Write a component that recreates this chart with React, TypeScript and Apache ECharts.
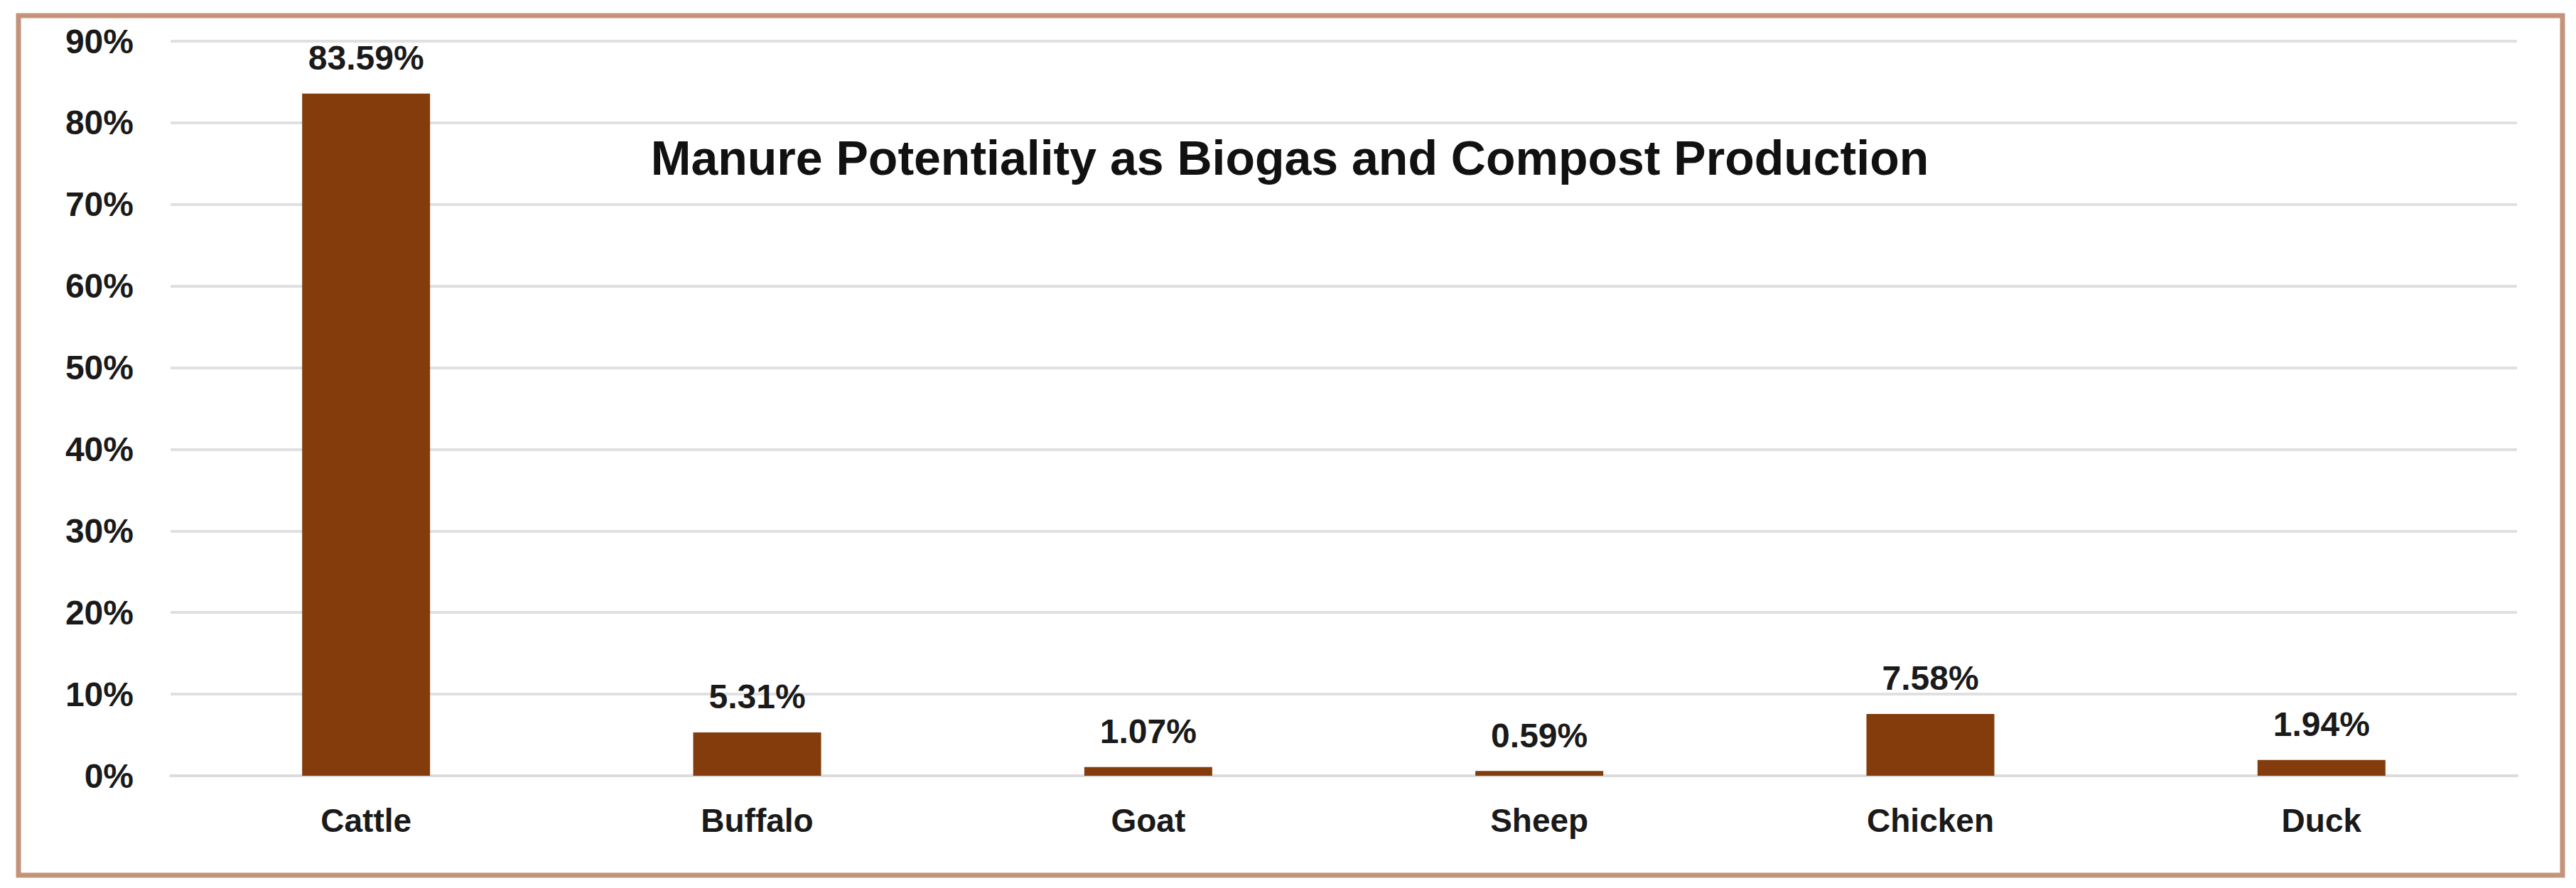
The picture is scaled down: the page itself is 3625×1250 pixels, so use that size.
import React, { useEffect, useRef } from "react";
import * as echarts from "echarts";

const categories = ["Cattle", "Buffalo", "Goat", "Sheep", "Chicken", "Duck"];
const shares = [83.59, 5.31, 1.07, 0.59, 7.58, 1.94];
const titleText = "Manure Potentiality as Biogas and Compost Production";

const FONT = '"Liberation Sans", Arial, sans-serif';

export default function App() {
  const ref = useRef<HTMLDivElement>(null);
  useEffect(() => {
    document.body.style.margin = "0";
    const chart = echarts.init(ref.current!, null, { renderer: "svg" });
    chart.setOption({
      animation: false,
      backgroundColor: "#ffffff",
      grid: { left: 240, right: 83, top: 58, bottom: 158, containLabel: false },
      xAxis: {
        type: "category",
        data: categories,
        axisLine: { show: true, lineStyle: { color: "#dcdcdc", width: 4 } },
        axisTick: { show: false },
        axisLabel: {
          fontSize: 46,
          fontWeight: "bold",
          fontFamily: FONT,
          color: "#1a1a1a",
          margin: 40,
        },
      },
      yAxis: {
        type: "value",
        min: 0,
        max: 90,
        interval: 10,
        axisLine: { show: false },
        axisTick: { show: false },
        axisLabel: {
          formatter: "{value}%",
          fontSize: 48,
          fontWeight: "bold",
          fontFamily: FONT,
          color: "#1a1a1a",
          margin: 52,
        },
        splitLine: { lineStyle: { color: "#e0e0e0", width: 4 } },
      },
      series: [
        {
          type: "bar",
          data: shares,
          barWidth: 180,
          itemStyle: { color: "#843c0c" },
          label: {
            show: true,
            position: "top",
            distance: 26,
            formatter: (p: any) => `${Number(p.value).toFixed(2)}%`,
            fontSize: 48,
            fontWeight: "bold",
            fontFamily: FONT,
            color: "#1a1a1a",
          },
        },
      ],
      graphic: [
        {
          type: "rect",
          shape: { x: 26, y: 22, width: 3580, height: 1210 },
          style: { fill: "none", stroke: "#c4937a", lineWidth: 7 },
          silent: true,
        },
        {
          type: "text",
          x: 1815,
          y: 222,
          style: {
            text: titleText,
            font: `bold 68px ${FONT}`,
            fill: "#111111",
            align: "center",
            verticalAlign: "middle",
            textAlign: "center",
            textVerticalAlign: "middle",
          },
        },
      ],
    });
    return () => chart.dispose();
  }, []);
  return (
    <div
      ref={ref}
      style={{ position: "absolute", left: 0, top: 0, width: 3625, height: 1250 }}
    />
  );
}
